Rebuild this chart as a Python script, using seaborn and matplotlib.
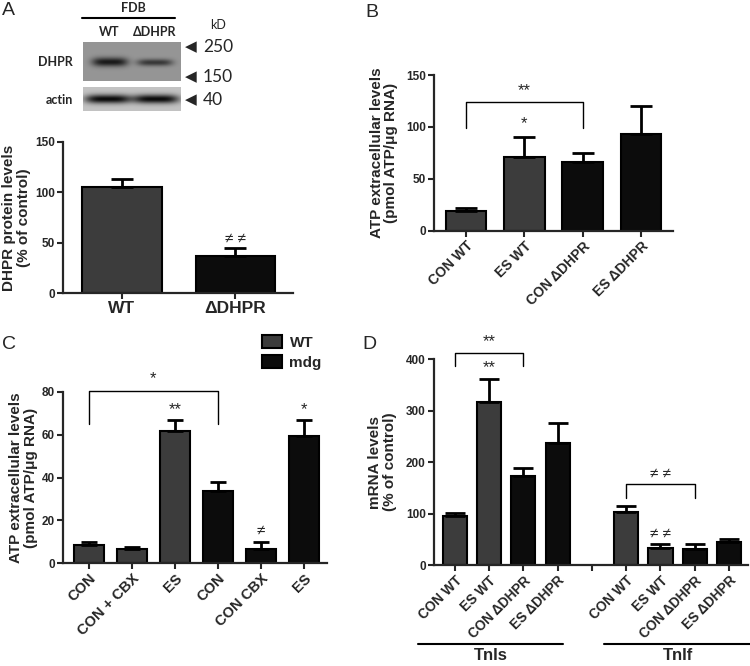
import numpy as np
import pandas as pd
import seaborn as sns
import matplotlib.pyplot as plt
from matplotlib.patches import Patch

sns.set_theme(style="ticks")
plt.rcParams['font.family'] = ['Liberation Sans', 'DejaVu Sans']
plt.rcParams['font.weight'] = 'bold'
plt.rcParams['axes.labelweight'] = 'bold'

# ---- data ----
# A: DHPR protein levels (% of control)
a_labels = ["WT", "ΔDHPR"]
a_geno = ["WT", "mut"]
a_mean = [105, 37]
a_sem = [8, 8]

# B: ATP extracellular levels, FDB fibres
b_labels = ["CON WT", "ES WT", "CON ΔDHPR", "ES ΔDHPR"]
b_geno = ["WT", "WT", "mut", "mut"]
b_mean = [19, 71, 66, 93]
b_sem = [2.5, 19, 9, 27]

# C: ATP extracellular levels, WT vs mdg
c_labels = ["CON", "CON + CBX", "ES", "CON", "CON CBX", "ES"]
c_geno = ["WT", "WT", "WT", "mdg", "mdg", "mdg"]
c_mean = [8.5, 6.7, 61.8, 33.7, 6.7, 59.3]
c_sem = [1.5, 0.8, 5, 4.3, 3.3, 7.5]

# D: mRNA levels (% of control)
d_labels = ["CON WT", "ES WT", "CON ΔDHPR", "ES ΔDHPR"]
d_geno = ["WT", "WT", "mut", "mut"]
d_genes = ["TnIs", "TnIf"]
d_tnis_mean = [96, 316, 174, 238]
d_tnis_sem = [6, 46, 14, 39]
d_tnif_mean = [104, 34, 32, 44]
d_tnif_sem = [11, 7, 9, 7]

PAL = {"WT": "#3c3c3c", "mut": "#0c0c0c", "mdg": "#0c0c0c"}
W, H = 750, 666


def fx(x):
    return x / W


def fy(y):
    return 1 - y / H


def rect(x0, y0, x1, y1):
    return [fx(x0), fy(y1), (x1 - x0) / W, (y1 - y0) / H]


def bars(ax, keys, means, sems, geno, order, cap):
    df = pd.DataFrame({"key": keys, "val": means, "geno": geno})
    sns.barplot(data=df, x="key", y="val", hue="geno", order=order,
                palette=PAL, width=0.7, dodge=False, edgecolor="black",
                linewidth=1.5, errorbar=None, legend=False, ax=ax)
    pos = [order.index(k) for k in keys]
    ax.errorbar(pos, means, yerr=[np.zeros(len(means)), sems], fmt="none",
                ecolor="black", elinewidth=2, capsize=cap, capthick=2)


def style(ax, ylim, yticks, xlim, ylabel, lab_x, tick_fs=8.5):
    ax.set_ylim(*ylim)
    ax.set_yticks(yticks)
    ax.set_xlim(*xlim)
    sns.despine(ax=ax)
    for s in ["left", "bottom"]:
        ax.spines[s].set_linewidth(1.6)
    ax.tick_params(width=1.5, length=4, direction="out", labelsize=tick_fs, pad=2)
    for t in ax.get_yticklabels():
        t.set_fontweight("bold")
    ax.set_xlabel("")
    ax.set_ylabel(ylabel, fontsize=11, linespacing=1.05)
    ax.yaxis.set_label_coords(lab_x, 0.5)


def xlabels(ax, labels, **kw):
    ax.set_xticks(range(len(labels)))
    ax.set_xticklabels(labels, fontweight="bold", **kw)


def bracket(ax, x0, x1, ytop, ydrop, txt, ty, fs=12):
    ax.plot([x0, x0, x1, x1], [ydrop, ytop, ytop, ydrop], color="black",
            lw=1, clip_on=False)
    ax.text((x0 + x1) / 2, ty, txt, ha="center", va="center", fontsize=fs,
            fontweight="normal", clip_on=False)


def mark(ax, x, y, txt, fs=12):
    ax.text(x, y, txt, ha="center", va="center", fontsize=fs,
            fontweight="normal", clip_on=False)


fig = plt.figure(figsize=(7.5, 6.66), dpi=100)

# ---------------- panel A: blot ----------------
def blot(box, bg, bands):
    ax = fig.add_axes(rect(*box))
    w, h = box[2] - box[0], box[3] - box[1]
    xs = np.linspace(0, w, w * 4)
    ys = np.linspace(0, h, h * 4)
    X, Y = np.meshgrid(xs, ys)
    img = np.full(X.shape, bg, dtype=float)
    for cx, hw, cy, hh, depth in bands:
        img -= depth * np.exp(-((X - cx) / hw) ** 4) * np.exp(-((Y - cy) / hh) ** 2)
    ax.imshow(img, cmap="gray", vmin=0, vmax=255, aspect="auto",
              extent=[0, w, h, 0], interpolation="bilinear")
    ax.set_axis_off()

blot((83, 42, 181, 81), 150, [(27, 18, 20, 4.5, 125), (72, 18, 20.5, 3.5, 95)])
blot((83, 87, 181, 111), 195, [(25, 23, 12, 4.5, 185), (73, 23, 12, 4.5, 185)])

blot_font = ["Lato", "DejaVu Sans"]
fig.text(fx(133), fy(8), "FDB", ha="center", va="center", fontsize=9,
         family=blot_font)
fig.add_artist(plt.Line2D([fx(82), fx(175)], [fy(18), fy(18)], color="black", lw=1.5))
fig.text(fx(109), fy(32), "WT", ha="center", va="center", fontsize=9,
         family=blot_font)
fig.text(fx(155), fy(32), "ΔDHPR", ha="center", va="center", fontsize=9,
         family=blot_font)
fig.text(fx(218), fy(25), "kD", ha="center", va="center", fontsize=9,
         fontweight="normal", family=blot_font)
fig.text(fx(73), fy(62), "DHPR", ha="right", va="center", fontsize=9,
         family=blot_font)
fig.text(fx(73), fy(100), "actin", ha="right", va="center", fontsize=9,
         family=blot_font)
for yy, kd in zip([47, 77, 100], ["250", "150", "40"]):
    fig.text(fx(191), fy(yy), "◀", ha="center", va="center", fontsize=11,
             fontweight="normal", family=["DejaVu Sans"])
    fig.text(fx(203), fy(yy), kd, ha="left", va="center", fontsize=12.5,
             fontweight="normal", family=blot_font)

# ---------------- panel A: bars ----------------
axA = fig.add_axes(rect(63, 142, 293, 293))
bars(axA, a_labels, a_mean, a_sem, a_geno, a_labels, cap=8)
style(axA, (0, 150), [0, 50, 100, 150], (-0.52, 1.51),
      "DHPR protein levels\n(% of control)", -0.14)
xlabels(axA, a_labels, fontsize=12.5)
mark(axA, 1, 54, "≠ ≠", fs=11)

# ---------------- panel B ----------------
axB = fig.add_axes(rect(434, 75, 673, 230.7))
bars(axB, b_labels, b_mean, b_sem, b_geno, b_labels, cap=8)
style(axB, (0, 150), [0, 50, 100, 150], (-0.55, 3.55),
      "ATP extracellular levels\n(pmol ATP/μg RNA)", -0.15)
xlabels(axB, b_labels, rotation=45, ha="right", rotation_mode="anchor",
        fontsize=10)
bracket(axB, 0, 2, 124, 99, "**", 135)
mark(axB, 1, 103, "*")

# ---------------- panel C ----------------
axC = fig.add_axes(rect(63, 391.7, 327, 563.3))
c_keys = [f"{g} {l}" for g, l in zip(c_geno, c_labels)]
bars(axC, c_keys, c_mean, c_sem, c_geno, c_keys, cap=6)
style(axC, (0, 80), [0, 20, 40, 60, 80], (-0.6, 5.53),
      "ATP extracellular levels\n(pmol ATP/μg RNA)", -0.095, tick_fs=8.5)
xlabels(axC, c_labels, rotation=45, ha="right", rotation_mode="anchor",
        fontsize=10.5)
bracket(axC, 0, 3, 80.4, 65, "*", 86)
mark(axC, 2, 71.5, "**")
mark(axC, 4, 15, "≠", fs=11)
mark(axC, 5, 71.5, "*")
handles = [Patch(facecolor=PAL["WT"], edgecolor="black", lw=1.5),
           Patch(facecolor=PAL["mdg"], edgecolor="black", lw=1.5)]
axC.legend(handles, ["WT", "mdg"], loc="upper left", frameon=False,
           bbox_to_anchor=(fx(262), fy(335)), bbox_transform=fig.transFigure,
           borderpad=0, borderaxespad=0, handlelength=1.3, handleheight=0.9,
           handletextpad=0.5, labelspacing=0.35,
           prop={"size": 11, "weight": "bold"})

# ---------------- panel D ----------------
axD = fig.add_axes(rect(434, 359.3, 748, 565))
d_keys = [f"{g} {l}" for g in d_genes for l in d_labels]
d_order = d_keys[:4] + ["gap"] + d_keys[4:]
bars(axD, d_keys, d_tnis_mean + d_tnif_mean, d_tnis_sem + d_tnif_sem,
     d_geno * 2, d_order, cap=7)
style(axD, (0, 400), [0, 100, 200, 300, 400], (-0.6, 8.55),
      "mRNA levels\n(% of control)", -0.118, tick_fs=8.5)
xlabels(axD, d_labels + [""] + d_labels, rotation=45, ha="right",
        rotation_mode="anchor", fontsize=9.8)
bracket(axD, 0, 2, 412, 387, "**", 434)
mark(axD, 1, 384, "**")
bracket(axD, 5, 7, 157, 130, "≠ ≠", 176, fs=11)
mark(axD, 6, 61, "≠ ≠", fs=11)
tr = axD.get_xaxis_transform()
for gene, (x0, x1) in zip(d_genes, [(-1.07, 3.16), (4.36, 8.65)]):
    axD.plot([x0, x1], [-0.384, -0.384], color="black", lw=1.5,
             transform=tr, clip_on=False)
    axD.text((x0 + x1) / 2, -0.44, gene, transform=tr, ha="center",
             va="center", fontsize=12)

# panel letters
for letter, (lx, ly) in zip("ABCD", [(2, 2), (365, 4), (2, 336), (362, 336)]):
    fig.text(fx(lx), fy(ly), letter, ha="left", va="top", fontsize=14,
             fontweight="normal")

fig.savefig("out.png", dpi=100)
